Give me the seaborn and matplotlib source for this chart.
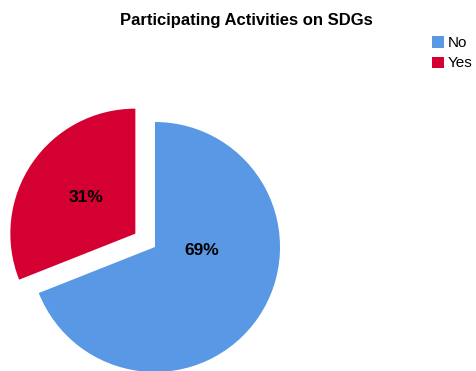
import matplotlib
matplotlib.use("Agg")
import matplotlib.pyplot as plt
import seaborn as sns
from matplotlib.patches import Patch

sns.set_theme(style="white")
plt.rcParams["font.family"] = ["Liberation Sans", "DejaVu Sans"]
plt.rcParams["text.color"] = "black"

categories = ["No", "Yes"]
shares = [69, 31]
colors = sns.color_palette(["#5898E4", "#D50032"])

fig = plt.figure(figsize=(4.77, 3.71), dpi=100)
ax = fig.add_axes([0, 0, 1, 1])

wedges, texts, autotexts = ax.pie(
    shares,
    colors=colors,
    startangle=90,
    counterclock=False,
    explode=[0, 0.19],
    autopct=lambda p: f"{p:.0f}%",
    pctdistance=0.5,
    radius=1.0,
    center=(0, 0),
    textprops=dict(fontsize=12.5, fontweight="bold", color="black"),
    wedgeprops=dict(linewidth=0),
)
# nudge percentage labels to sit in the visual body of each slice
autotexts[0].set_position((0.376, -0.03))
autotexts[1].set_position((-0.552, 0.40))

ax.set_xlim(-1.24, 2.576)
ax.set_ylim(-0.992, 1.976)
ax.set_aspect("equal")
ax.axis("off")

fig.text(0.517, 0.945, "Participating Activities on SDGs",
         ha="center", va="center", fontsize=12, fontweight="bold", color="black")

handles = [Patch(facecolor=c, edgecolor="none") for c in colors]
leg = fig.legend(handles, categories, loc="upper left", bbox_to_anchor=(0.906, 0.902),
                 frameon=False, fontsize=11, handlelength=0.75, handleheight=0.75,
                 handletextpad=0.25, labelspacing=0.4, borderpad=0, borderaxespad=0)
for t in leg.get_texts():
    t.set_color("black")

fig.savefig("out.png", dpi=100)
